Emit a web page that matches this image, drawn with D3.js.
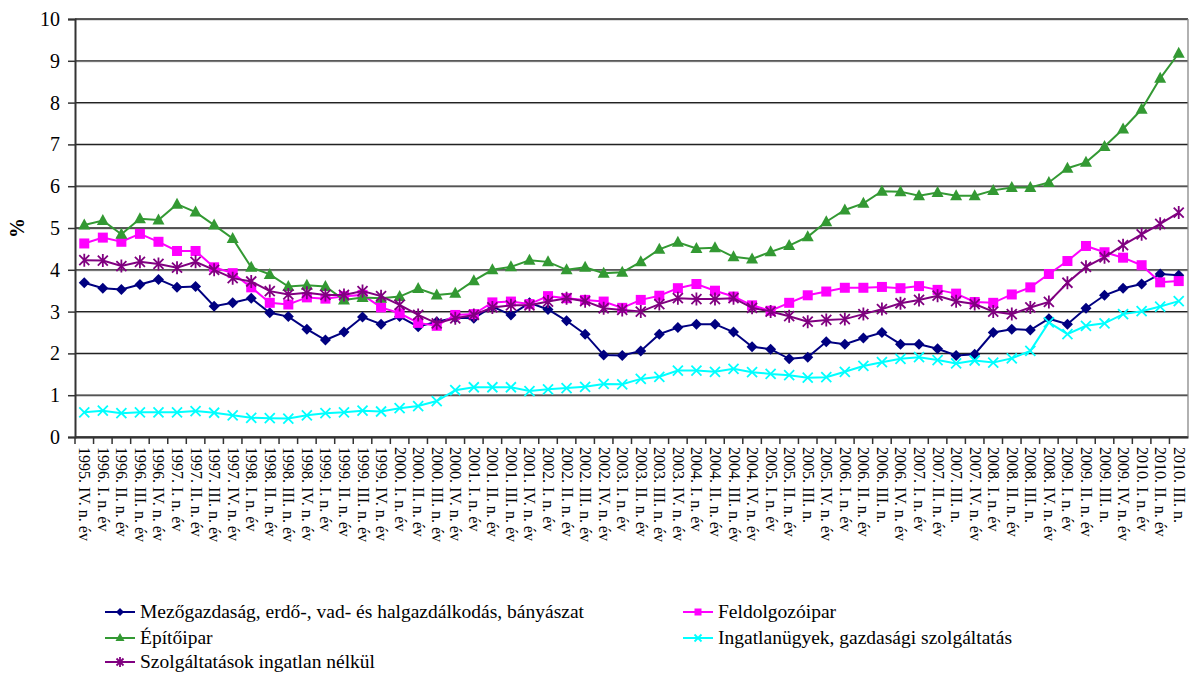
<!DOCTYPE html>
<html>
<head>
	<meta charset="utf-8">
	<title></title>
	<script src="https://d3js.org/d3.v7.min.js"></script>
	<style>
		body{ margin:0; background:#fff; }
		svg text{ font-family:"Liberation Serif","DejaVu Serif",serif !important; fill:#000; }
	</style>
</head>
<body>
	<svg width='1189' height='673'></svg>
<script>
	var quarters = [];
	var years = d3.range(1995, 2011);
	var roman = ['I', 'II', 'III', 'IV'];
	// 1995 IV .. 2010 III
	years.forEach(function(y){
		roman.forEach(function(q, qi){
			if (y == 1995 && qi < 3) return;
			if (y == 2010 && qi > 2) return;
			var lab = y + '. ' + q + '. n.';
			if (!(y >= 2005 && q == 'III')) lab += ' év';
			quarters.push(lab);
		});
	});

	var mezogazdasag = [3.69,3.56,3.53,3.65,3.77,3.58,3.60,3.13,3.21,3.32, 2.97,2.88,2.58,2.32,2.51,2.87,2.70,2.88,2.64,2.76,
		2.85,2.84,3.12,2.92,3.21,3.05,2.78,2.46,1.96,1.95, 2.06,2.46,2.62,2.70,2.70,2.51,2.16,2.10,1.87,1.91,
		2.28,2.22,2.37,2.50,2.22,2.22,2.11,1.95,1.98,2.50, 2.58,2.56,2.83,2.70,3.08,3.39,3.56,3.66,3.90,3.87];
	var feldolgozo = [4.63,4.77,4.67,4.86,4.67,4.45,4.45,4.06,3.92,3.58, 3.21,3.17,3.34,3.31,3.37,3.40,3.10,2.96,2.73,2.66,
		2.92,2.94,3.22,3.24,3.18,3.37,3.32,3.28,3.24,3.09, 3.28,3.38,3.56,3.66,3.50,3.36,3.15,3.02,3.21,3.39,
		3.48,3.57,3.57,3.59,3.56,3.61,3.52,3.43,3.23,3.21, 3.41,3.58,3.90,4.21,4.57,4.42,4.29,4.11,3.70,3.73];
	var epitoipar = [5.07,5.18,4.85,5.22,5.19,5.57,5.38,5.07,4.75,4.06, 3.89,3.60,3.63,3.60,3.28,3.34,3.32,3.36,3.55,3.40,
		3.44,3.74,4.00,4.07,4.23,4.19,4.00,4.06,3.92,3.94, 4.19,4.49,4.66,4.51,4.53,4.31,4.26,4.43,4.58,4.79,
		5.15,5.43,5.59,5.88,5.87,5.77,5.85,5.77,5.77,5.90, 5.97,5.97,6.09,6.43,6.57,6.95,7.37,7.84,8.58,9.18];
	var ingatlan = [0.59,0.63,0.57,0.59,0.59,0.59,0.62,0.58,0.52,0.46, 0.45,0.44,0.52,0.57,0.59,0.63,0.61,0.69,0.74,0.86,
		1.12,1.19,1.19,1.19,1.10,1.14,1.17,1.20,1.27,1.26, 1.39,1.44,1.59,1.59,1.56,1.63,1.55,1.51,1.48,1.42,
		1.43,1.56,1.70,1.79,1.87,1.91,1.84,1.76,1.83,1.78, 1.88,2.06,2.74,2.46,2.66,2.72,2.94,3.01,3.12,3.25];
	var szolgaltatas = [4.23,4.22,4.09,4.19,4.14,4.05,4.19,4.00,3.80,3.72, 3.49,3.41,3.45,3.40,3.40,3.49,3.37,3.16,2.92,2.72,
		2.84,2.92,3.10,3.15,3.15,3.24,3.32,3.25,3.08,3.04, 3.00,3.18,3.32,3.30,3.30,3.32,3.09,3.00,2.89,2.76,
		2.80,2.82,2.94,3.06,3.20,3.28,3.38,3.25,3.18,3.00, 2.94,3.10,3.23,3.69,4.07,4.30,4.59,4.85,5.10,5.37];

	var seriesNames = ['Mezőgazdaság, erdő-, vad- és halgazdálkodás, bányászat', 'Feldolgozóipar',
		'Építőipar', 'Ingatlanügyek, gazdasági szolgáltatás', 'Szolgáltatások ingatlan nélkül'];
	var seriesValues = [mezogazdasag, feldolgozo, epitoipar, ingatlan, szolgaltatas];
	var colors = ['#000080', '#ff00ff', '#339933', '#00ffff', '#800080'];
	var markers = ['diamond', 'square', 'triangle', 'x', 'star'];
	var yTicks = d3.range(0, 11);

	(function(){
	var serif = '"Liberation Serif", "DejaVu Serif", serif';
	var svg = d3.select('svg');
	var pLeft = 75, pTop = 19, pRight = 1188, pBottom = 437;

	var x = d3.scaleBand().domain(quarters).range([pLeft, pRight]);
	var y = d3.scaleLinear().domain([0, 10]).range([pBottom, pTop]);

	// grid
	svg.append('g').selectAll('line').data(yTicks).enter().append('line')
		.attr('x1', pLeft).attr('x2', pRight)
		.attr('y1', function(d){ return y(d) + 1; }).attr('y2', function(d){ return y(d) + 1; })
		.attr('stroke', '#bbb').attr('stroke-width', 1);
	svg.append('g').selectAll('line').data(yTicks).enter().append('line')
		.attr('x1', pLeft).attr('x2', pRight)
		.attr('y1', function(d){ return y(d); }).attr('y2', function(d){ return y(d); })
		.attr('stroke', '#222').attr('stroke-width', 1.3);
	svg.append('line').attr('x1', pRight).attr('x2', pRight).attr('y1', pTop).attr('y2', pBottom)
		.attr('stroke', '#888').attr('stroke-width', 1.3);

	// y axis
	var yAxis = svg.append('g').attr('transform', 'translate(' + pLeft + ',0)')
		.call(d3.axisLeft(y).tickValues(yTicks).tickSize(7).tickPadding(8));
	yAxis.attr('font-family', serif);
	yAxis.select('.domain').attr('stroke', '#333').attr('stroke-width', 2);
	yAxis.selectAll('.tick line').attr('stroke', '#333').attr('stroke-width', 1.5);
	yAxis.selectAll('text').style('font-size', '20px').style('font-family', serif);

	// x axis
	var xAxis = svg.append('g').attr('transform', 'translate(0,' + pBottom + ')')
		.call(d3.axisBottom(x).tickSize(0).tickPadding(0));
	xAxis.attr('font-family', serif);
	xAxis.select('.domain').attr('stroke', '#333').attr('stroke-width', 2);
	xAxis.selectAll('.tick text')
		.style('font-size', '16px').style('font-family', serif)
		.attr('text-anchor', 'start')
		.attr('transform', 'translate(-5,10) rotate(90)')
		.attr('dy', 0).attr('y', 0).attr('x', 0);
	xAxis.selectAll('.sep').data(quarters).enter().append('line')
		.attr('x1', function(d){ return x(d); }).attr('x2', function(d){ return x(d); })
		.attr('y1', 0).attr('y2', 7).attr('stroke', '#333').attr('stroke-width', 1.5);

	svg.append('text').attr('transform', 'translate(24,' + (y(5)) + ') rotate(-90)')
		.attr('text-anchor', 'middle').style('font-size', '20px').style('font-weight', 'bold')
		.style('font-family', serif).text('%');

	function drawMarker(g, type, color, cx, cy, s){
		if (type == 'diamond'){
			g.append('path').attr('d', 'M' + cx + ',' + (cy - s) + 'L' + (cx + s) + ',' + cy + 'L' + cx + ',' + (cy + s) + 'L' + (cx - s) + ',' + cy + 'Z')
				.attr('fill', color);
		} else if (type == 'square'){
			g.append('rect').attr('x', cx - s + 0.5).attr('y', cy - s + 0.5).attr('width', 2 * s - 1).attr('height', 2 * s - 1)
				.attr('fill', color);
		} else if (type == 'triangle'){
			g.append('path').attr('d', 'M' + cx + ',' + (cy - s - 1) + 'L' + (cx + s + 0.5) + ',' + (cy + s - 1) + 'L' + (cx - s - 0.5) + ',' + (cy + s - 1) + 'Z')
				.attr('fill', color);
		} else {
			var r = s - 0.5;
			var p = 'M' + (cx - r) + ',' + (cy - r) + 'L' + (cx + r) + ',' + (cy + r) + 'M' + (cx + r) + ',' + (cy - r) + 'L' + (cx - r) + ',' + (cy + r);
			if (type == 'star') p += 'M' + cx + ',' + (cy - s - 1) + 'L' + cx + ',' + (cy + s + 1);
			g.append('path').attr('d', p).attr('stroke', color).attr('stroke-width', 1.8).attr('fill', 'none');
		}
	}

	var line = d3.line()
		.x(function(d, i){ return x(quarters[i]) + x.bandwidth() / 2; })
		.y(function(d){ return y(d); });

	seriesValues.forEach(function(vals, si){
		var g = svg.append('g');
		g.append('path').datum(vals).attr('d', line)
			.attr('fill', 'none').attr('stroke', colors[si]).attr('stroke-width', 2);
		vals.forEach(function(v, i){
			drawMarker(g, markers[si], colors[si], x(quarters[i]) + x.bandwidth() / 2, y(v), 5.5);
		});
	});

	// legend
	var legPos = [[105, 612], [683, 612], [105, 638], [683, 638], [105, 662]];
	seriesNames.forEach(function(name, si){
		var lx = legPos[si][0], ly = legPos[si][1];
		var g = svg.append('g');
		g.append('line').attr('x1', lx).attr('x2', lx + 30).attr('y1', ly).attr('y2', ly)
			.attr('stroke', colors[si]).attr('stroke-width', 2);
		drawMarker(g, markers[si], colors[si], lx + 15, ly, 4);
		g.append('text').attr('x', lx + 35).attr('y', ly + 6).style('font-size', '19.5px')
			.style('font-family', serif).text(name);
	});
	})();
</script>
</body>
</html>
